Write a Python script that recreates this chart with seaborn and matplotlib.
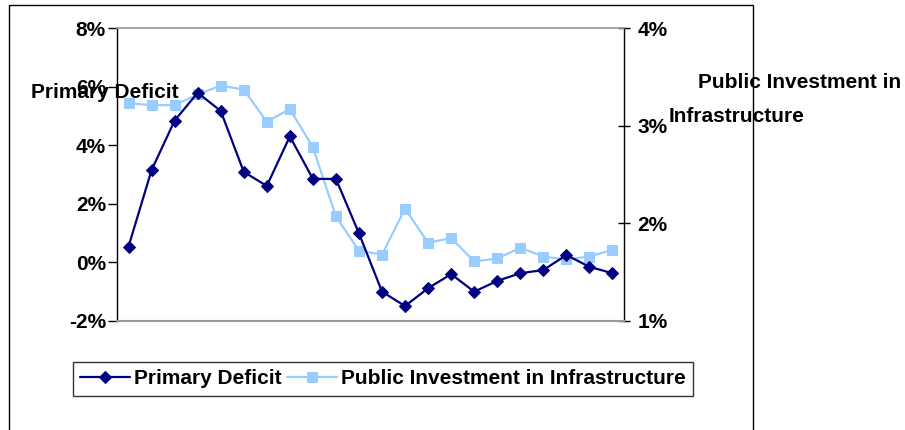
import matplotlib
matplotlib.use("Agg")
import matplotlib.pyplot as plt
import seaborn as sns
import pandas as pd
from matplotlib.patches import Rectangle
from matplotlib.ticker import FuncFormatter

# Data (percent), 22 periods
periods = list(range(22))
primary_deficit = [0.54, 3.15, 4.84, 5.79, 5.17, 3.09, 2.61, 4.30, 2.85, 2.85, 0.99,
                   -1.00, -1.49, -0.88, -0.40, -1.00, -0.63, -0.37, -0.26, 0.25, -0.15, -0.37]
public_investment = [3.23, 3.21, 3.21, 3.32, 3.41, 3.37, 3.04, 3.17, 2.78, 2.07, 1.72,
                     1.68, 2.15, 1.80, 1.85, 1.61, 1.64, 1.75, 1.66, 1.63, 1.66, 1.73]
left_ticks = [-2, 0, 2, 4, 6, 8]
right_ticks = [1, 2, 3, 4]

sns.set_theme(style="white")
plt.rcParams['font.family'] = ['Liberation Sans', 'DejaVu Sans']
plt.rcParams['font.weight'] = 'bold'
for k in ('text.color', 'axes.labelcolor', 'xtick.color', 'ytick.color'):
    plt.rcParams[k] = 'black'

FS = 15

df = pd.DataFrame({"period": periods, "pd": primary_deficit, "pi": public_investment})

fig = plt.figure(figsize=(9.05, 4.30), dpi=100)
W, H = 905, 430
ax = fig.add_axes([117 / W, 1 - 321 / H, (624 - 117) / W, (321 - 28) / H])
ax2 = ax.twinx()

navy = "#000080"
light = "#99CCFF"

sns.lineplot(data=df, x="period", y="pd", ax=ax, color=navy, marker="D", markersize=6.5,
             markeredgecolor=navy, linewidth=1.6, zorder=3, label="Primary Deficit", legend=False)
sns.lineplot(data=df, x="period", y="pi", ax=ax2, color=light, marker="s", markersize=7.5,
             markeredgecolor=light, linewidth=1.6, zorder=2, label="Public Investment in Infrastructure",
             legend=False)

ax.set_zorder(ax2.get_zorder() + 1)
ax.patch.set_visible(False)

ax.set_xlim(-0.5, 21.5)
ax.set_ylim(-2, 8)
ax2.set_ylim(1, 4)
ax.set_yticks(left_ticks)
ax2.set_yticks(right_ticks)
ax.yaxis.set_major_formatter(FuncFormatter(lambda v, p: f"{v:.0f}%"))
ax2.yaxis.set_major_formatter(FuncFormatter(lambda v, p: f"{v:.0f}%"))
ax.set_xticks([])
ax.set_xlabel("")
ax.set_ylabel("")
ax2.set_ylabel("")

for a in (ax, ax2):
    for s in a.spines.values():
        s.set_visible(False)
ax.spines['left'].set_visible(True)
ax.spines['left'].set_color('black')
ax.spines['left'].set_linewidth(1.0)
ax2.spines['right'].set_visible(True)
ax2.spines['right'].set_color('black')
ax2.spines['right'].set_linewidth(1.0)
ax.spines['top'].set_visible(True)
ax.spines['top'].set_color('#999999')
ax.spines['bottom'].set_visible(True)
ax.spines['bottom'].set_color('#999999')
ax.spines['bottom'].set_linewidth(1.5)

ax.tick_params(axis='y', direction='out', length=6.5, width=1, color='black', labelsize=FS, pad=1.5, left=True)
ax2.tick_params(axis='y', direction='inout', length=9, width=1, color='black', labelsize=FS, pad=5, right=True)
for lab in ax.get_yticklabels() + ax2.get_yticklabels():
    lab.set_fontweight('bold')

# axis titles (Excel-style, placed horizontally)
fig.text(31 / W, 1 - 93 / H, "Primary Deficit", fontsize=FS, fontweight='bold', va='center', ha='left')
fig.text(698 / W, 1 - 83 / H, "Public Investment in", fontsize=FS, fontweight='bold', va='center', ha='left')
fig.text(669 / W, 1 - 117 / H, "Infrastructure", fontsize=FS, fontweight='bold', va='center', ha='left')

# outer chart frame
fig.patches.append(Rectangle((9 / W, -0.1), (753 - 9) / W, 1.1 - 5 / H, transform=fig.transFigure,
                             fill=False, edgecolor='black', linewidth=1.0))

h1, l1 = ax.get_legend_handles_labels()
h2, l2 = ax2.get_legend_handles_labels()
leg = fig.legend(h1 + h2, l1 + l2, loc='center', bbox_to_anchor=((66 + 700) / 2 / W, 1 - 379 / H),
                 ncol=2, frameon=True, fancybox=False, edgecolor='black',
                 handlelength=2.4, handletextpad=0.2, columnspacing=0.25, borderpad=0.35,
                 borderaxespad=0, prop={'weight': 'bold', 'size': FS})
leg.get_frame().set_linewidth(1.0)

fig.savefig("out.png", dpi=100)
